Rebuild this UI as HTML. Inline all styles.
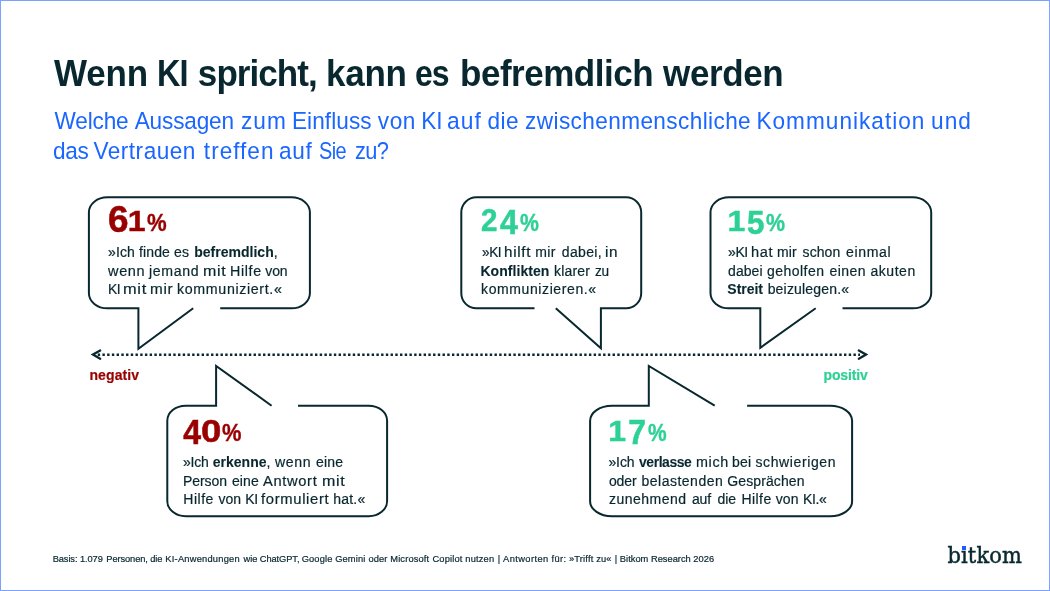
<!DOCTYPE html>
<html lang="de"><head><meta charset="utf-8"><title>Wenn KI spricht, kann es befremdlich werden</title>
<style>
html,body{margin:0;padding:0;background:#fff;}
body{width:1050px;height:591px;position:relative;overflow:hidden;font-family:"Liberation Sans",sans-serif;}
.frame{position:absolute;left:0;top:0;width:1048px;height:589px;border:1px solid #7aa3ff;}
.ln{position:absolute;left:0;margin:0;padding:0;font-size:0;line-height:1;white-space:nowrap;font-weight:400;}
.w{display:inline-block;position:relative;line-height:1;white-space:nowrap;vertical-align:top;}
.w b{font-weight:700;-webkit-text-stroke-width:0.1px;}
svg{position:absolute;left:0;top:0;}
</style></head>
<body>
<div class="frame"></div>
<svg width="1050" height="591" viewBox="0 0 1050 591">
<g fill="none" stroke="#08272f" stroke-width="2.0" stroke-linejoin="miter" stroke-linecap="butt">
<path d="M220.2 308.3H291.37A18.53 15 0 0 0 309.9 293.3V212.35A18.53 15 0 0 0 291.37 197.35H107.43A18.53 15 0 0 0 88.9 212.35V293.3A18.53 15 0 0 0 107.43 308.3H138.4V348.7L193.2 308.3"/>
<path d="M534.5 308.3H476.38A15.08 15 0 0 1 461.3 293.3V212.35A15.08 15 0 0 1 476.38 197.35H626.12A15.08 15 0 0 1 641.2 212.35V293.3A15.08 15 0 0 1 626.12 308.3H600.9V348.2L555.8 308.3"/>
<path d="M842.5 308.3H912.7A18.5 15 0 0 0 931.2 293.3V212.35A18.5 15 0 0 0 912.7 197.35H729A18.5 15 0 0 0 710.5 212.35V293.3A18.5 15 0 0 0 729 308.3H760.3V347.8L815.7 308.3"/>
<path d="M298 405.7H368.68A18.42 15 0 0 1 387.1 420.7V501.2A18.42 15 0 0 1 368.68 516.2H185.72A18.42 15 0 0 1 167.3 501.2V420.7A18.42 15 0 0 1 185.72 405.7H216.1V365.9L271.6 405.7"/>
<path d="M747.1 405.7H830.14A21.96 15 0 0 1 852.1 420.7V501.2A21.96 15 0 0 1 830.14 516.2H612.06A21.96 15 0 0 1 590.1 501.2V420.7A21.96 15 0 0 1 612.06 405.7H648.8V365.9L714.7 405.7"/>
</g>
<line x1="97.7" y1="354.85" x2="860" y2="354.85" stroke="#08272f" stroke-width="2.5" stroke-dasharray="2.4 2.3235"/>
<path d="M100.2 350.5L92.95 354.6L100.2 358.7" fill="none" stroke="#08272f" stroke-width="2.3" stroke-linecap="round" stroke-linejoin="miter" stroke-miterlimit="10"/>
<path d="M858.8 350.5L866.05 354.6L858.8 358.7" fill="none" stroke="#08272f" stroke-width="2.3" stroke-linecap="round" stroke-linejoin="miter" stroke-miterlimit="10"/>
</svg>
<h1 class="ln" style="top:56.07px;color:#08272f;font-weight:700"><span class="w" style="margin-left:54.12px;font-size:35px;letter-spacing:-0.227px;transform-origin:0 29.63px;transform:scaleY(1.06)">Wenn</span> <span class="w" style="margin-left:8.95px;font-size:35px;letter-spacing:-1.050px;transform-origin:0 29.63px;transform:scale(0.927,1.06)">KI</span> <span class="w" style="margin-left:8.20px;font-size:35px;letter-spacing:-0.937px;transform-origin:0 29.63px;transform:scaleY(1.06)">spricht,</span> <span class="w" style="margin-left:9.22px;font-size:35px;letter-spacing:-0.274px;transform-origin:0 29.63px;transform:scaleY(1.06)">kann</span> <span class="w" style="margin-left:8.35px;font-size:35px;letter-spacing:-1.050px;transform-origin:0 29.63px;transform:scale(0.915,1.06)">es</span> <span class="w" style="margin-left:8.26px;font-size:35px;letter-spacing:-0.489px;transform-origin:0 29.63px;transform:scaleY(1.06)">befremdlich</span> <span class="w" style="margin-left:10.09px;font-size:35px;letter-spacing:-0.405px;transform-origin:0 29.63px;transform:scaleY(1.06)">werden</span></h1>
<p class="ln" style="top:110.77px;color:#1a66ff"><span class="w" style="margin-left:54.62px;font-size:22.6px;letter-spacing:-0.188px;transform-origin:0 19.13px;transform:scaleY(1.03)">Welche</span> <span class="w" style="margin-left:6.27px;font-size:22.6px;letter-spacing:-0.154px;transform-origin:0 19.13px;transform:scaleY(1.03)">Aussagen</span> <span class="w" style="margin-left:7.39px;font-size:22.6px;letter-spacing:1.017px;transform-origin:0 19.13px;transform:scale(1.003,1.03)">zum</span> <span class="w" style="margin-left:4.84px;font-size:22.6px;letter-spacing:0.091px;transform-origin:0 19.13px;transform:scaleY(1.03)">Einfluss</span> <span class="w" style="margin-left:6.11px;font-size:22.6px;letter-spacing:0.581px;transform-origin:0 19.13px;transform:scaleY(1.03)">von</span> <span class="w" style="margin-left:5.22px;font-size:22.6px;letter-spacing:-0.159px;transform-origin:0 19.13px;transform:scaleY(1.03)">KI</span> <span class="w" style="margin-left:4.76px;font-size:22.6px;letter-spacing:1.017px;transform-origin:0 19.13px;transform:scale(1.010,1.03)">auf</span> <span class="w" style="margin-left:5.97px;font-size:22.6px;letter-spacing:0.452px;transform-origin:0 19.13px;transform:scaleY(1.03)">die</span> <span class="w" style="margin-left:6.13px;font-size:22.6px;letter-spacing:0.394px;transform-origin:0 19.13px;transform:scaleY(1.03)">zwischenmenschliche</span> <span class="w" style="margin-left:5.37px;font-size:22.6px;letter-spacing:1.017px;transform-origin:0 19.13px;transform:scaleY(1.03)">Kommunikation</span> <span class="w" style="margin-left:5.62px;font-size:22.6px;letter-spacing:1.017px;transform-origin:0 19.13px;transform:scale(1.004,1.03)">und</span></p>
<p class="ln" style="top:140.67px;color:#1a66ff"><span class="w" style="margin-left:52.90px;font-size:22.6px;letter-spacing:-0.279px;transform-origin:0 19.13px;transform:scaleY(1.03)">das</span> <span class="w" style="margin-left:5.00px;font-size:22.6px;letter-spacing:0.487px;transform-origin:0 19.13px;transform:scaleY(1.03)">Vertrauen</span> <span class="w" style="margin-left:8.03px;font-size:22.6px;letter-spacing:0.991px;transform-origin:0 19.13px;transform:scaleY(1.03)">treffen</span> <span class="w" style="margin-left:4.61px;font-size:22.6px;letter-spacing:0.689px;transform-origin:0 19.13px;transform:scaleY(1.03)">auf</span> <span class="w" style="margin-left:6.51px;font-size:22.6px;letter-spacing:-0.678px;transform-origin:0 19.13px;transform:scale(0.882,1.03)">Sie</span> <span class="w" style="margin-left:5.38px;font-size:22.6px;letter-spacing:-0.678px;transform-origin:0 19.13px;transform:scale(0.966,1.03)">zu?</span></p>
<div class="ln" style="top:204.51px;color:#990000;font-weight:700"><span class="w" style="margin-left:107.72px;font-size:32px;letter-spacing:0.155px;-webkit-text-stroke:0.5px #990000;transform-origin:0 27.09px;transform:scale(1.155,1.155)">6</span><span class="w" style="margin-left:2.05px;font-size:32px;-webkit-text-stroke:0.5px #990000;transform-origin:0 27.09px;transform:scale(1.000,0.931);top:-0.50px">1</span><span class="w" style="margin-left:1.12px;font-size:24.2px;letter-spacing:0.114px;-webkit-text-stroke:0.4px #990000;transform-origin:0 20.49px;transform:scale(0.914,1.0);top:6.20px">%</span></div>
<div class="ln" style="top:245.35px;color:#08272f"><span class="w" style="margin-left:108.04px;font-size:14px;letter-spacing:0.126px;-webkit-text-stroke:0.2px #08272f">»Ich finde es</span> <span class="w" style="margin-left:5.07px;font-size:14px;letter-spacing:0.025px;-webkit-text-stroke:0.2px #08272f"><b>befremdlich</b>,</span></div>
<div class="ln" style="top:263.85px;color:#08272f"><span class="w" style="margin-left:108.04px;font-size:14px;letter-spacing:0.630px;-webkit-text-stroke:0.2px #08272f;transform-origin:0 11.85px;transform:scale(1.036,1.0)">wenn</span> <span class="w" style="margin-left:4.75px;font-size:14px;letter-spacing:0.630px;-webkit-text-stroke:0.2px #08272f;transform-origin:0 11.85px;transform:scale(1.010,1.0)">jemand</span> <span class="w" style="margin-left:4.96px;font-size:14px;letter-spacing:0.630px;-webkit-text-stroke:0.2px #08272f;transform-origin:0 11.85px;transform:scale(1.144,1.0)">mit</span> <span class="w" style="margin-left:6.14px;font-size:14px;letter-spacing:0.630px;-webkit-text-stroke:0.2px #08272f;transform-origin:0 11.85px;transform:scale(1.018,1.0)">Hilfe</span> <span class="w" style="margin-left:3.93px;font-size:14px;letter-spacing:-0.089px;-webkit-text-stroke:0.2px #08272f">von</span></div>
<div class="ln" style="top:282.15px;color:#08272f"><span class="w" style="margin-left:108.44px;font-size:14px;letter-spacing:-0.420px;-webkit-text-stroke:0.2px #08272f;transform-origin:0 11.85px;transform:scale(0.986,1.0)">KI</span> <span class="w" style="margin-left:2.21px;font-size:14px;letter-spacing:0.630px;-webkit-text-stroke:0.2px #08272f;transform-origin:0 11.85px;transform:scale(1.169,1.0)">mit</span> <span class="w" style="margin-left:6.74px;font-size:14px;letter-spacing:0.630px;-webkit-text-stroke:0.2px #08272f;transform-origin:0 11.85px;transform:scale(1.093,1.0)">mir</span> <span class="w" style="margin-left:5.37px;font-size:14px;letter-spacing:0.630px;-webkit-text-stroke:0.2px #08272f;transform-origin:0 11.85px;transform:scale(1.017,1.0)">kommuniziert.«</span></div>
<div class="ln" style="top:203.71px;color:#2dd195;font-weight:700"><span class="w" style="margin-left:480.98px;font-size:32px;letter-spacing:-0.078px;-webkit-text-stroke:0.5px #2dd195;transform-origin:0 27.09px;transform:scale(0.922,0.956)">2</span><span class="w" style="margin-left:1.62px;font-size:32px;letter-spacing:0.003px;-webkit-text-stroke:0.5px #2dd195;transform-origin:0 27.09px;transform:scale(1.003,1.095);top:3.10px">4</span><span class="w" style="margin-left:1.73px;font-size:24.2px;letter-spacing:0.072px;-webkit-text-stroke:0.4px #2dd195;transform-origin:0 20.49px;transform:scale(0.879,1.0);top:7.20px">%</span></div>
<div class="ln" style="top:245.35px;color:#08272f"><span class="w" style="margin-left:481.52px;font-size:14px;letter-spacing:-0.420px;-webkit-text-stroke:0.2px #08272f;transform-origin:0 11.85px;transform:scale(0.972,1.0)">»KI</span> <span class="w" style="margin-left:2.72px;font-size:14px;letter-spacing:0.630px;-webkit-text-stroke:0.2px #08272f;transform-origin:0 11.85px;transform:scale(1.087,1.0)">hilft</span> <span class="w" style="margin-left:6.39px;font-size:14px;letter-spacing:0.331px;-webkit-text-stroke:0.2px #08272f">mir</span> <span class="w" style="margin-left:6.11px;font-size:14px;letter-spacing:0.329px;-webkit-text-stroke:0.2px #08272f">dabei,</span> <span class="w" style="margin-left:3.33px;font-size:14px;letter-spacing:0.630px;-webkit-text-stroke:0.2px #08272f;transform-origin:0 11.85px;transform:scale(1.092,1.0)">in</span></div>
<div class="ln" style="top:263.85px;color:#08272f"><span class="w" style="margin-left:480.44px;font-size:14px;letter-spacing:0.059px;-webkit-text-stroke:0.2px #08272f"><b>Konflikten</b></span> <span class="w" style="margin-left:4.56px;font-size:14px;letter-spacing:0.193px;-webkit-text-stroke:0.2px #08272f">klarer</span> <span class="w" style="margin-left:4.73px;font-size:14px;letter-spacing:-0.420px;-webkit-text-stroke:0.2px #08272f;transform-origin:0 11.85px;transform:scale(0.974,1.0)">zu</span></div>
<div class="ln" style="top:282.15px;color:#08272f"><span class="w" style="margin-left:481.04px;font-size:14px;letter-spacing:0.604px;-webkit-text-stroke:0.2px #08272f">kommunizieren.«</span></div>
<div class="ln" style="top:204.01px;color:#2dd195;font-weight:700"><span class="w" style="margin-left:727.52px;font-size:32px;-webkit-text-stroke:0.5px #2dd195;transform-origin:0 27.09px;transform:scale(1.000,0.931)">1</span><span class="w" style="margin-left:1.40px;font-size:32px;letter-spacing:-0.021px;-webkit-text-stroke:0.5px #2dd195;transform-origin:0 27.09px;transform:scale(0.979,1.066);top:3.20px">5</span><span class="w" style="margin-left:1.52px;font-size:24.2px;letter-spacing:0.078px;-webkit-text-stroke:0.4px #2dd195;transform-origin:0 20.49px;transform:scale(0.884,1.0);top:6.80px">%</span></div>
<div class="ln" style="top:245.35px;color:#08272f"><span class="w" style="margin-left:728.06px;font-size:14px;letter-spacing:-0.420px;-webkit-text-stroke:0.2px #08272f">»KI</span> <span class="w" style="margin-left:3.22px;font-size:14px;letter-spacing:0.630px;-webkit-text-stroke:0.2px #08272f;transform-origin:0 11.85px;transform:scale(1.043,1.0)">hat</span> <span class="w" style="margin-left:4.64px;font-size:14px;letter-spacing:0.131px;-webkit-text-stroke:0.2px #08272f">mir</span> <span class="w" style="margin-left:5.77px;font-size:14px;letter-spacing:0.060px;-webkit-text-stroke:0.2px #08272f">schon</span> <span class="w" style="margin-left:5.22px;font-size:14px;letter-spacing:0.630px;-webkit-text-stroke:0.2px #08272f;transform-origin:0 11.85px;transform:scale(1.007,1.0)">einmal</span></div>
<div class="ln" style="top:263.85px;color:#08272f"><span class="w" style="margin-left:728.06px;font-size:14px;letter-spacing:0.059px;-webkit-text-stroke:0.2px #08272f">dabei</span> <span class="w" style="margin-left:4.32px;font-size:14px;letter-spacing:0.483px;-webkit-text-stroke:0.2px #08272f">geholfen</span> <span class="w" style="margin-left:4.92px;font-size:14px;letter-spacing:0.474px;-webkit-text-stroke:0.2px #08272f">einen</span> <span class="w" style="margin-left:4.45px;font-size:14px;letter-spacing:0.531px;-webkit-text-stroke:0.2px #08272f">akuten</span></div>
<div class="ln" style="top:282.15px;color:#08272f"><span class="w" style="margin-left:727.34px;font-size:14px;letter-spacing:-0.035px;-webkit-text-stroke:0.2px #08272f"><b>Streit</b></span> <span class="w" style="margin-left:4.72px;font-size:14px;letter-spacing:0.190px;-webkit-text-stroke:0.2px #08272f">beizulegen.«</span></div>
<div class="ln" style="top:367.95px;color:#990000;font-weight:700"><span class="w" style="margin-left:89.44px;font-size:14px;letter-spacing:0.114px;-webkit-text-stroke:0.2px #990000">negativ</span></div>
<div class="ln" style="top:367.95px;color:#2dd195;font-weight:700"><span class="w" style="margin-left:823.44px;font-size:14px;letter-spacing:-0.114px;-webkit-text-stroke:0.2px #2dd195">positiv</span></div>
<div class="ln" style="top:416.91px;color:#990000;font-weight:700"><span class="w" style="margin-left:183.32px;font-size:32px;-webkit-text-stroke:0.5px #990000;transform-origin:0 27.09px;transform:scale(1.000,1.109)">4</span><span class="w" style="margin-left:0.00px;font-size:32px;letter-spacing:0.144px;-webkit-text-stroke:0.5px #990000;transform-origin:0 27.09px;transform:scale(1.144,0.991);top:-2.30px">0</span><span class="w" style="margin-left:3.13px;font-size:24.2px;letter-spacing:0.103px;-webkit-text-stroke:0.4px #990000;transform-origin:0 20.49px;transform:scale(0.904,1.0);top:4.40px">%</span></div>
<div class="ln" style="top:455.35px;color:#08272f"><span class="w" style="margin-left:183.04px;font-size:14px;letter-spacing:-0.223px;-webkit-text-stroke:0.2px #08272f">»Ich</span> <span class="w" style="margin-left:4.12px;font-size:14px;letter-spacing:0.015px;-webkit-text-stroke:0.2px #08272f"><b>erkenne</b>,</span> <span class="w" style="margin-left:4.08px;font-size:14px;letter-spacing:0.630px;-webkit-text-stroke:0.2px #08272f;transform-origin:0 11.85px;transform:scale(1.010,1.0)">wenn</span> <span class="w" style="margin-left:5.53px;font-size:14px;letter-spacing:0.177px;-webkit-text-stroke:0.2px #08272f">eine</span></div>
<div class="ln" style="top:473.85px;color:#08272f"><span class="w" style="margin-left:183.04px;font-size:14px;letter-spacing:-0.076px;-webkit-text-stroke:0.2px #08272f">Person</span> <span class="w" style="margin-left:4.94px;font-size:14px;letter-spacing:0.144px;-webkit-text-stroke:0.2px #08272f">eine</span> <span class="w" style="margin-left:3.72px;font-size:14px;letter-spacing:0.630px;-webkit-text-stroke:0.2px #08272f;transform-origin:0 11.85px;transform:scale(1.048,1.0)">Antwort</span> <span class="w" style="margin-left:7.52px;font-size:14px;letter-spacing:0.630px;-webkit-text-stroke:0.2px #08272f;transform-origin:0 11.85px;transform:scale(1.144,1.0)">mit</span></div>
<div class="ln" style="top:492.15px;color:#08272f"><span class="w" style="margin-left:183.34px;font-size:14px;letter-spacing:0.491px;-webkit-text-stroke:0.2px #08272f">Hilfe</span> <span class="w" style="margin-left:4.61px;font-size:14px;letter-spacing:0.011px;-webkit-text-stroke:0.2px #08272f">von</span> <span class="w" style="margin-left:4.21px;font-size:14px;letter-spacing:-0.354px;-webkit-text-stroke:0.2px #08272f">KI</span> <span class="w" style="margin-left:2.87px;font-size:14px;letter-spacing:0.630px;-webkit-text-stroke:0.2px #08272f;transform-origin:0 11.85px;transform:scale(1.057,1.0)">formuliert</span> <span class="w" style="margin-left:7.94px;font-size:14px;letter-spacing:0.210px;-webkit-text-stroke:0.2px #08272f">hat.«</span></div>
<div class="ln" style="top:414.21px;color:#2dd195;font-weight:700"><span class="w" style="margin-left:608.22px;font-size:32px;-webkit-text-stroke:0.5px #2dd195;transform-origin:0 27.09px;transform:scale(1.000,0.935)">1</span><span class="w" style="margin-left:2.14px;font-size:32px;-webkit-text-stroke:0.5px #2dd195;transform-origin:0 27.09px;transform:scale(1.000,1.091);top:2.70px">7</span><span class="w" style="margin-left:1.64px;font-size:24.2px;letter-spacing:0.056px;-webkit-text-stroke:0.4px #2dd195;transform-origin:0 20.49px;transform:scale(0.866,1.0);top:7.10px">%</span></div>
<div class="ln" style="top:455.35px;color:#08272f"><span class="w" style="margin-left:608.44px;font-size:14px;letter-spacing:-0.103px;-webkit-text-stroke:0.2px #08272f">»Ich</span> <span class="w" style="margin-left:4.20px;font-size:14px;letter-spacing:-0.420px;-webkit-text-stroke:0.2px #08272f;transform-origin:0 11.85px;transform:scale(0.994,1.0)"><b>verlasse</b></span> <span class="w" style="margin-left:4.64px;font-size:14px;letter-spacing:0.630px;-webkit-text-stroke:0.2px #08272f;transform-origin:0 11.85px;transform:scale(1.025,1.0)">mich</span> <span class="w" style="margin-left:3.92px;font-size:14px;letter-spacing:0.146px;-webkit-text-stroke:0.2px #08272f">bei</span> <span class="w" style="margin-left:4.27px;font-size:14px;letter-spacing:0.614px;-webkit-text-stroke:0.2px #08272f">schwierigen</span></div>
<div class="ln" style="top:473.85px;color:#08272f"><span class="w" style="margin-left:608.88px;font-size:14px;letter-spacing:-0.110px;-webkit-text-stroke:0.2px #08272f">oder</span> <span class="w" style="margin-left:4.97px;font-size:14px;letter-spacing:0.504px;-webkit-text-stroke:0.2px #08272f">belastenden</span> <span class="w" style="margin-left:3.96px;font-size:14px;letter-spacing:0.118px;-webkit-text-stroke:0.2px #08272f">Gesprächen</span></div>
<div class="ln" style="top:492.15px;color:#08272f"><span class="w" style="margin-left:608.88px;font-size:14px;letter-spacing:0.504px;-webkit-text-stroke:0.2px #08272f">zunehmend</span> <span class="w" style="margin-left:5.30px;font-size:14px;letter-spacing:-0.134px;-webkit-text-stroke:0.2px #08272f">auf</span> <span class="w" style="margin-left:6.57px;font-size:14px;letter-spacing:-0.044px;-webkit-text-stroke:0.2px #08272f">die</span> <span class="w" style="margin-left:5.36px;font-size:14px;letter-spacing:0.446px;-webkit-text-stroke:0.2px #08272f">Hilfe</span> <span class="w" style="margin-left:4.15px;font-size:14px;letter-spacing:0.021px;-webkit-text-stroke:0.2px #08272f">von</span> <span class="w" style="margin-left:4.66px;font-size:14px;letter-spacing:-0.420px;-webkit-text-stroke:0.2px #08272f">KI.«</span></div>
<div class="ln" style="top:555.33px;color:#08272f"><span class="w" style="margin-left:52.63px;font-size:9.3px;letter-spacing:-0.088px;-webkit-text-stroke:0.2px #08272f">Basis: 1.079</span> <span class="w" style="margin-left:3.59px;font-size:9.3px;letter-spacing:-0.101px;-webkit-text-stroke:0.2px #08272f">Personen, die</span> <span class="w" style="margin-left:2.94px;font-size:9.3px;letter-spacing:0.230px;-webkit-text-stroke:0.2px #08272f">KI-Anwendungen</span> <span class="w" style="margin-left:3.71px;font-size:9.3px;letter-spacing:-0.086px;-webkit-text-stroke:0.2px #08272f">wie ChatGPT,</span> <span class="w" style="margin-left:2.31px;font-size:9.3px;letter-spacing:0.132px;-webkit-text-stroke:0.2px #08272f">Google Gemini</span> <span class="w" style="margin-left:2.97px;font-size:9.3px;letter-spacing:0.138px;-webkit-text-stroke:0.2px #08272f">oder Microsoft</span> <span class="w" style="margin-left:3.26px;font-size:9.3px;letter-spacing:0.166px;-webkit-text-stroke:0.2px #08272f">Copilot nutzen</span> <span class="w" style="margin-left:3.53px;font-size:9.3px;letter-spacing:0.405px;-webkit-text-stroke:0.2px #08272f">| Antworten für:</span> <span class="w" style="margin-left:2.39px;font-size:9.3px;letter-spacing:0.169px;-webkit-text-stroke:0.2px #08272f">»Trifft zu«</span> <span class="w" style="margin-left:3.17px;font-size:9.3px;letter-spacing:0.009px;-webkit-text-stroke:0.2px #08272f">| Bitkom Research 2026</span></div>
<div class="ln" style="top:546.02px;color:#08272f"><span class="w" style="margin-left:947.46px;font-size:21px;letter-spacing:0.122px;font-family:'DejaVu Serif','Liberation Serif',serif;-webkit-text-stroke:0.45px #08272f;transform-origin:0 17.78px;transform:scaleY(1.1)">bitkom</span></div>
<div style="position:absolute;left:961.9px;top:546.2px;width:4.2px;height:4px;background:#1f5cff"></div>
</body></html>
